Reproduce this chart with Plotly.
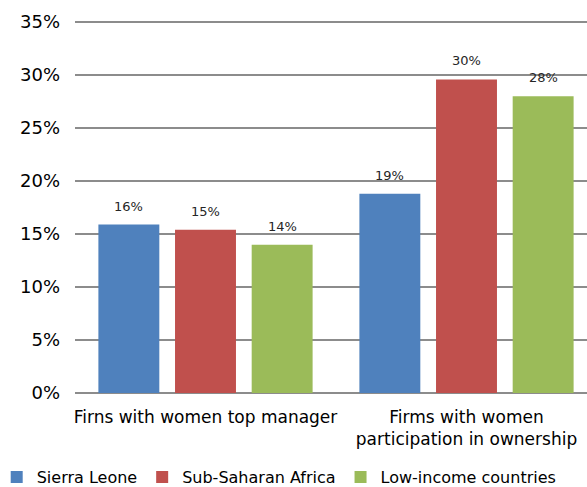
import plotly.graph_objects as go

categories = ["Firns with women top manager", "Firms with women<br>participation in ownership"]
series_names = ["Sierra Leone", "Sub-Saharan Africa", "Low-income countries"]
sierra_leone = [15.9, 18.8]
ssa = [15.4, 29.6]
low_income = [14.0, 28.0]
colors = ["#4F81BD", "#C0504D", "#9BBB59"]
y_ticks = [0, 5, 10, 15, 20, 25, 30, 35]
y_tick_labels = [f"{v}%" for v in y_ticks]

FONT = "DejaVu Sans"
BARGAP = 0.119
GROUPGAP = 0.205
fig = go.Figure()
all_series = [sierra_leone, ssa, low_income]
for i, (name, vals, c) in enumerate(zip(series_names, all_series, colors)):
    fig.add_trace(go.Bar(
        name=name, x=categories, y=vals, marker_color=c,
        marker_line_width=0, offsetgroup=str(i),
    ))

# plot area in the original runs slightly past the right edge of the picture
fig.update_layout(
    width=597, height=487,
    margin=dict(l=75, r=0, t=19, b=94, autoexpand=False),
    paper_bgcolor="white", plot_bgcolor="white",
    barmode="group", bargap=BARGAP, bargroupgap=GROUPGAP,
    font=dict(family=FONT, color="#000000"),
    legend=dict(orientation="h", x=-0.15, xanchor="left", y=-0.225, yanchor="middle",
                font=dict(family=FONT, size=16), traceorder="normal",
                itemwidth=30, tracegroupgap=0),
    showlegend=True,
)

group_w = 1 - BARGAP
slot = group_w / 3
for i, vals in enumerate(all_series):
    for j, v in enumerate(vals):
        fig.add_annotation(
            x=j - group_w / 2 + slot * (i + 0.5), y=v, xref="x", yref="y",
            text=f"{round(v)}%", showarrow=False, yanchor="bottom", yshift=9,
            font=dict(family=FONT, size=13, color="#262626"),
        )

fig.update_yaxes(range=[0, 35.3], tickvals=y_ticks, ticktext=y_tick_labels,
                 showgrid=True, gridcolor="#8c8c8c", gridwidth=1.6,
                 zeroline=True, zerolinecolor="#8c8c8c", zerolinewidth=1.6,
                 tickfont=dict(family=FONT, size=18), ticks="", ticklen=0,
                 ticklabelstandoff=14, automargin=False)
fig.update_xaxes(tickfont=dict(family=FONT, size=17), showline=False, ticks="",
                 ticklabelstandoff=12, automargin=False)
fig.write_html(
    "out.html",
    config={"displayModeBar": False},
    post_script="document.body.style.margin='0';document.body.style.overflow='hidden';",
)
